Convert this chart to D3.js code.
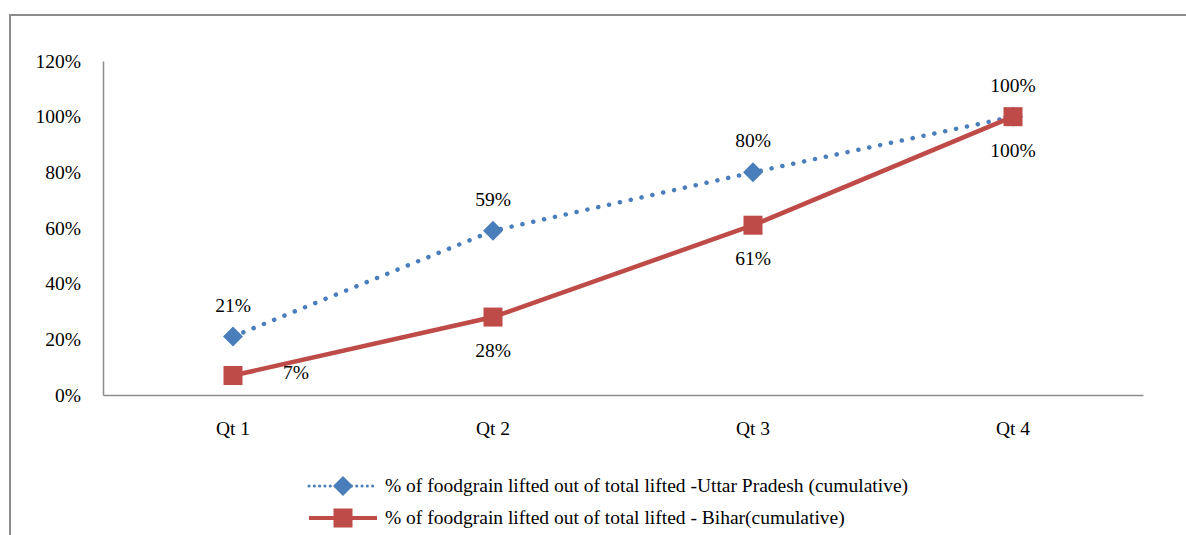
<!DOCTYPE html>
<html>
<head>
<meta charset="utf-8">
<script src="https://d3js.org/d3.v7.min.js"></script>
<style>
  body { margin: 0; background: #fff; }
  text { font-family: "Liberation Serif", "DejaVu Serif", serif; fill: #000; }
</style>
</head>
<body>
<svg id="chart" width="1186" height="535"></svg>
<script>
// chart data
const quarters = ["Qt 1", "Qt 2", "Qt 3", "Qt 4"];
const upValues = [0.21, 0.59, 0.80, 1.00];
const biharValues = [0.07, 0.28, 0.61, 1.00];
const yTicks = [0, 0.2, 0.4, 0.6, 0.8, 1.0, 1.2];
const seriesNames = [
  "% of foodgrain lifted out of total lifted -Uttar Pradesh (cumulative)",
  "% of foodgrain lifted out of total lifted - Bihar(cumulative)"
];

const svg = d3.select("#chart");
const blue = "#4a7ebb", red = "#be4b48", axisGrey = "#8c8c8c";
const fs = "19.5px";

// outer frame (only left and top edges are in view)
svg.append("path")
  .attr("d", "M10,535 L10,15 L1186,15")
  .attr("fill", "none").attr("stroke", axisGrey).attr("stroke-width", 2);

const plot = { left: 103, right: 1143, top: 61, bottom: 395 };

const x = d3.scaleBand().domain(quarters).range([plot.left, plot.right]);
const y = d3.scaleLinear().domain([0, 1.2]).range([plot.bottom, plot.top]);
const cx = d => x(d) + x.bandwidth() / 2;

// y axis
const yAxis = svg.append("g").attr("transform", `translate(${plot.left},0)`)
  .call(d3.axisLeft(y).tickValues(yTicks).tickSize(0).tickPadding(22).tickFormat(d3.format(".0%")));
yAxis.select(".domain").attr("stroke", axisGrey).attr("stroke-width", 1.5);
yAxis.selectAll("text").style("font-size", fs).style("font-family", "Liberation Serif");

// x axis
const xAxis = svg.append("g").attr("transform", `translate(0,${plot.bottom})`)
  .call(d3.axisBottom(x).tickSize(0).tickPadding(26));
xAxis.select(".domain").attr("stroke", axisGrey).attr("stroke-width", 1.5);
xAxis.selectAll("text").style("font-size", fs).style("font-family", "Liberation Serif");

const line = d3.line().x((d, i) => cx(quarters[i])).y(d => y(d));

// UP series: dotted
svg.append("path").datum(upValues)
  .attr("d", line).attr("fill", "none")
  .attr("stroke", blue).attr("stroke-width", 4.5)
  .attr("stroke-linecap", "round").attr("stroke-dasharray", "0.1,11");

// Bihar series: solid
svg.append("path").datum(biharValues)
  .attr("d", line).attr("fill", "none")
  .attr("stroke", red).attr("stroke-width", 4.5);

function diamond(g, px, py) {
  g.append("path")
    .attr("d", `M${px},${py - 10} L${px + 10},${py} L${px},${py + 10} L${px - 10},${py} Z`)
    .attr("fill", blue);
}
function square(g, px, py) {
  g.append("rect").attr("x", px - 9.5).attr("y", py - 9.5)
    .attr("width", 19).attr("height", 19).attr("fill", red);
}

const markers = svg.append("g");
upValues.forEach((v, i) => diamond(markers, cx(quarters[i]), y(v)));
biharValues.forEach((v, i) => square(markers, cx(quarters[i]), y(v)));

// data labels
const fmt = d3.format(".0%");
svg.append("g").selectAll("text").data(upValues).join("text")
  .attr("x", (d, i) => cx(quarters[i]))
  .attr("y", d => y(d) - 25)
  .attr("text-anchor", "middle").style("font-size", fs)
  .text(d => fmt(d));

svg.append("g").selectAll("text").data(biharValues).join("text")
  .attr("x", (d, i) => i === 0 ? cx(quarters[i]) + 63 : cx(quarters[i]))
  .attr("y", (d, i) => i === 0 ? y(d) + 3 : y(d) + 40)
  .attr("text-anchor", "middle").style("font-size", fs)
  .text(d => fmt(d));

// legend
const legend = svg.append("g");
const legendRows = [
  { name: seriesNames[0], color: blue, dotted: true, y: 486 },
  { name: seriesNames[1], color: red, dotted: false, y: 518 }
];
legendRows.forEach(r => {
  legend.append("line")
    .attr("x1", 309).attr("x2", 377).attr("y1", r.y).attr("y2", r.y)
    .attr("stroke", r.color)
    .attr("stroke-width", r.dotted ? 3 : 4)
    .attr("stroke-linecap", r.dotted ? "round" : "butt")
    .attr("stroke-dasharray", r.dotted ? "0.1,5.2" : null);
  if (r.dotted) diamond(legend, 343, r.y);
  else square(legend, 343, r.y);
  legend.append("text")
    .attr("x", 385).attr("y", r.y + 6)
    .style("font-size", fs)
    .text(r.name);
});
</script>
</body>
</html>
